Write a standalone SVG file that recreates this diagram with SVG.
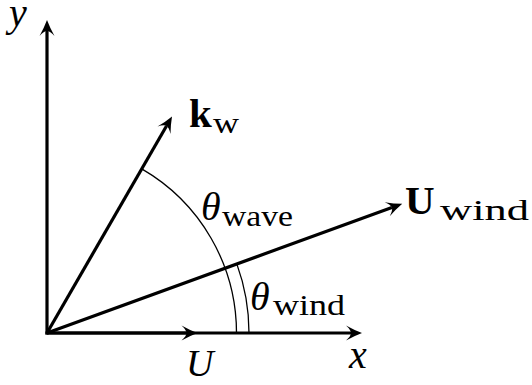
<svg xmlns="http://www.w3.org/2000/svg" width="532" height="385" viewBox="0 0 532 385">
<style>
text{font-family:'Liberation Serif','DejaVu Serif',serif;fill:#000}
.vec{stroke:#000;stroke-width:3.2;fill:none;marker-end:url(#ah)}
.arc{stroke:#000;stroke-width:1.3;fill:none}
.m{font-style:italic;font-size:40px}
.b{font-weight:bold;font-size:41px}
.s{font-size:30px}
</style>
<defs>
<marker id="ah" viewBox="-18 -9 19 18" refX="-11" refY="0" markerWidth="19" markerHeight="18" markerUnits="userSpaceOnUse" orient="auto" overflow="visible">
<path d="M0,0 Q-8,-3 -16,-7.5 Q-11,-3 -11,0 Q-11,3 -16,7.5 Q-8,3 0,0 Z" fill="#000"/>
</marker>
</defs>
<g id="connectors">
<path class="vec" d="M47,334.6 L47,31"/>
<path class="vec" d="M45.4,333 L351,333"/>
<path class="vec" d="M47,333 L186.5,333"/>
<path class="vec" d="M47,333 L166.5,126"/>
<path class="vec" d="M47,333 L391.9,207.5"/>
<path class="arc" d="M236.5,333 A189.5,189.5 0 0 0 141.75,168.9"/>
<path class="arc" d="M249,333 A202,202 0 0 0 236.8,263.9"/>
</g>
<g id="label-y"><text class="m" x="9" y="26" font-size="38">y</text></g>
<g id="label-x"><text class="m" x="349" y="368">x</text></g>
<g id="label-U"><text class="m" x="186" y="376" style="font-size:38px">U</text></g>
<g id="label-kw"><text class="b" x="189" y="127">k</text><text class="s" x="213" y="133" textLength="26" lengthAdjust="spacingAndGlyphs">w</text></g>
<g id="label-Uwind"><text class="b" x="405" y="214">U</text><text class="s" x="440" y="220" textLength="89" lengthAdjust="spacingAndGlyphs">wind</text></g>
<g id="label-theta-wave"><text class="m" x="201" y="220">θ</text><text class="s" x="222" y="226" textLength="71" lengthAdjust="spacingAndGlyphs">wave</text></g>
<g id="label-theta-wind"><text class="m" x="250" y="310">θ</text><text class="s" x="273" y="315" textLength="72" lengthAdjust="spacingAndGlyphs">wind</text></g>
</svg>
